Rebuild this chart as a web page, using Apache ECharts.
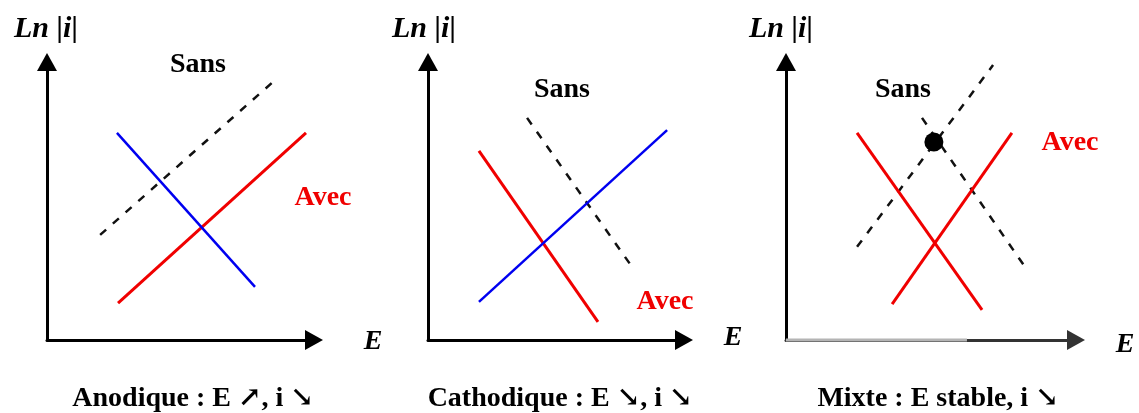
<!DOCTYPE html>
<html><head><meta charset='utf-8'>
<script src='https://cdn.jsdelivr.net/npm/echarts@6/dist/echarts.min.js'></script>
<style>html,body{margin:0;padding:0;background:#fff}#main{width:1139px;height:413px}</style>
</head><body><div id='main'></div><script>
// points in axis units (0..100 both ways)
var anodSans = [[19.9, 37.8], [84.6, 92.8]];
var anodBlue = [[26.2, 74.5], [77.9, 19.1]];
var anodRed = [[26.6, 13.3], [97.0, 74.5]];

var cathSans = [[38.7, 79.9], [79.7, 26.3]];
var cathBlue = [[19.9, 13.7], [93.4, 75.5]];
var cathRed = [[19.9, 68.0], [66.4, 6.5]];

var mixSansUp = [[24.5, 33.5], [71.4, 98.9]];
var mixSansDown = [[46.9, 79.9], [82.4, 26.3]];
var mixDot = [[51.0, 71.2]];
var mixRedDown = [[24.5, 74.5], [67.6, 10.8]];
var mixRedUp = [[36.6, 12.9], [77.9, 74.5]];
var mixAxisGray = [[0, 0], [62.4, 0]];

var captions = ['Anodique : E \u2197, i \u2198', 'Cathodique : E \u2198, i \u2198', 'Mixte : E stable, i \u2198'];

var grids = [
  {left: 47, top: 62, width: 267, height: 278},
  {left: 428, top: 62, width: 256, height: 278},
  {left: 786, top: 62, width: 290, height: 278}
];

function axis(i, color) {
  return {
    gridIndex: i, type: 'value', min: 0, max: 100,
    axisLine: {show: true, onZero: false, symbol: ['none', 'triangle'], symbolSize: [20, 18],
      lineStyle: {color: color || '#000', width: 3}},
    axisTick: {show: false}, axisLabel: {show: false}, splitLine: {show: false}
  };
}

function seg(i, data, color, width, dash) {
  return {
    type: 'line', xAxisIndex: i, yAxisIndex: i, data: data, showSymbol: false,
    clip: false, silent: true,
    lineStyle: {color: color, width: width, type: dash ? [8, 9] : 'solid'}
  };
}

var serif = '"Liberation Serif", "DejaVu Serif", serif';
function txt(x, y, s, color, size, italic) {
  return {
    type: 'text', x: x, y: y,
    style: {text: s, fill: color, font: (italic ? 'italic ' : '') + 'bold ' + size + 'px ' + serif,
      textAlign: 'center', textVerticalAlign: 'middle'}
  };
}

var chart = echarts.init(document.getElementById('main'));
chart.setOption({
  animation: false,
  grid: grids,
  xAxis: [axis(0), axis(1), axis(2, '#333')],
  yAxis: [axis(0), axis(1), axis(2)],
  series: [
    seg(0, anodSans, '#111', 2.5, true),
    seg(0, anodRed, '#f00000', 3),
    seg(0, anodBlue, '#0000f0', 2.5),
    seg(1, cathSans, '#111', 2.5, true),
    seg(1, cathRed, '#f00000', 3),
    seg(1, cathBlue, '#0000f0', 2.5),
    seg(2, mixAxisGray, '#b4b4b4', 3),
    seg(2, mixSansUp, '#111', 2.5, true),
    seg(2, mixSansDown, '#111', 2.5, true),
    seg(2, mixRedDown, '#f00000', 3),
    seg(2, mixRedUp, '#f00000', 3),
    {type: 'scatter', xAxisIndex: 2, yAxisIndex: 2, data: mixDot, symbolSize: 19, z: 5,
      itemStyle: {color: '#000', opacity: 1}, silent: true}
  ],
  graphic: [
    txt(46, 29, 'Ln |i|', '#000', 30, true),
    txt(424, 29, 'Ln |i|', '#000', 30, true),
    txt(781, 29, 'Ln |i|', '#000', 30, true),
    txt(373, 342, 'E', '#000', 28, true),
    txt(733, 338, 'E', '#000', 28, true),
    txt(1125, 345, 'E', '#000', 28, true),
    txt(198, 65, 'Sans', '#000', 28),
    txt(562, 90, 'Sans', '#000', 28),
    txt(903, 90, 'Sans', '#000', 28),
    txt(323, 198, 'Avec', '#f00000', 28),
    txt(665, 302, 'Avec', '#f00000', 28),
    txt(1070, 143, 'Avec', '#f00000', 28),
    txt(193, 399, captions[0], '#000', 28),
    txt(560, 399, captions[1], '#000', 28),
    txt(938, 399, captions[2], '#000', 28)
  ]
});
</script></body></html>
